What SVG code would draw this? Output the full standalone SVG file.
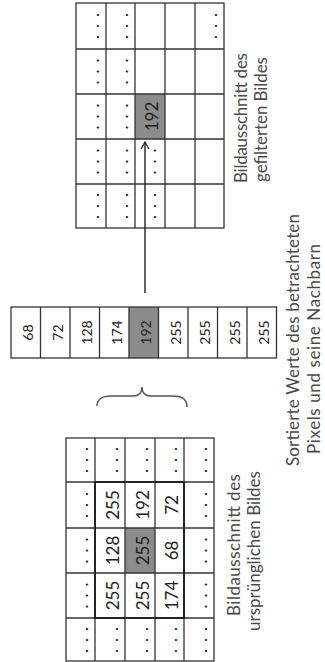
<svg xmlns="http://www.w3.org/2000/svg" width="325" height="662" viewBox="0 0 325 662">
<style>
.bg{fill:#ffffff}
.grid{fill:none;stroke:#333;stroke-width:1.3}
.thick{fill:none;stroke:#222;stroke-width:2}
.gray{fill:#8c8c8c}
.num{font-family:Lato,"Liberation Sans",sans-serif;font-size:17px;fill:#222;text-anchor:middle}
.snum{font-family:Lato,"Liberation Sans",sans-serif;font-size:14px;fill:#222;text-anchor:middle}
.dots{font-family:Lato,"Liberation Sans",sans-serif;font-size:17px;fill:#222;text-anchor:middle;letter-spacing:7px}
.lbl{font-family:Lato,"Liberation Sans",sans-serif;font-size:17px;fill:#4a4a4a;text-anchor:middle}
.conn{fill:none;stroke:#222;stroke-width:1.4}
.brace{fill:none;stroke:#555;stroke-width:1.5}
</style>
<defs>
<marker id="arr" markerWidth="10" markerHeight="10" refX="8" refY="5" orient="auto" markerUnits="userSpaceOnUse">
<path d="M1,1 L8,5 L1,9" fill="none" stroke="#222" stroke-width="1.3"/>
</marker>
</defs>
<rect class="bg" x="0" y="0" width="325" height="662"/>

<g id="filtered-grid">
<rect class="gray" x="135" y="94" width="30" height="45"/>
<rect class="grid" x="76" y="3" width="148" height="225"/>
<path class="grid" d="M106,3V228M135,3V228M165,3V228M195,3V228M76,49H224M76,94H224M76,139H224M76,184H224"/>
<text class="num" transform="translate(158,116.5) rotate(-90)">192</text>
<text class="dots" transform="translate(99,22.5) rotate(-90)">...</text>
<text class="dots" transform="translate(99,68) rotate(-90)">...</text>
<text class="dots" transform="translate(99,113) rotate(-90)">...</text>
<text class="dots" transform="translate(99,158) rotate(-90)">...</text>
<text class="dots" transform="translate(99,202.5) rotate(-90)">...</text>
<text class="dots" transform="translate(128,22.5) rotate(-90)">...</text>
<text class="dots" transform="translate(128,68) rotate(-90)">...</text>
<text class="dots" transform="translate(128,113) rotate(-90)">...</text>
<text class="dots" transform="translate(128,158) rotate(-90)">...</text>
<text class="dots" transform="translate(128,202.5) rotate(-90)">...</text>
<text class="dots" transform="translate(156,158) rotate(-90)">...</text>
<text class="dots" transform="translate(156,202.5) rotate(-90)">...</text>
<text class="dots" transform="translate(217,22.5) rotate(-90)">...</text>
</g>

<g id="filtered-label">
<text class="lbl" transform="translate(247,118) rotate(-90)" textLength="130">Bildausschnitt des</text>
<text class="lbl" transform="translate(267,119.5) rotate(-90)" textLength="125">gefilterten Bildes</text>
</g>

<g id="sorted-strip">
<rect class="gray" x="129" y="307" width="29.5" height="51"/>
<rect class="grid" x="11" y="307" width="265.5" height="51"/>
<path class="grid" d="M40.5,307V358M70,307V358M99.5,307V358M129,307V358M158.5,307V358M188,307V358M217.5,307V358M247,307V358"/>
<text class="snum" transform="translate(33,332.5) rotate(-90)">68</text>
<text class="snum" transform="translate(62.5,332.5) rotate(-90)">72</text>
<text class="snum" transform="translate(92,332.5) rotate(-90)">128</text>
<text class="snum" transform="translate(121.5,332.5) rotate(-90)">174</text>
<text class="snum" transform="translate(151,332.5) rotate(-90)">192</text>
<text class="snum" transform="translate(180.5,332.5) rotate(-90)">255</text>
<text class="snum" transform="translate(210,332.5) rotate(-90)">255</text>
<text class="snum" transform="translate(239.5,332.5) rotate(-90)">255</text>
<text class="snum" transform="translate(269,332.5) rotate(-90)">255</text>
</g>

<g id="sorted-label">
<text class="lbl" transform="translate(299,340) rotate(-90)" textLength="252">Sortierte Werte des betrachteten</text>
<text class="lbl" transform="translate(320,349) rotate(-90)" textLength="210">Pixels und seine Nachbarn</text>
</g>

<g id="original-grid">
<rect class="gray" x="125" y="528" width="30" height="45"/>
<rect class="grid" x="66" y="438" width="148" height="223"/>
<path class="grid" d="M95,438V661M125,438V661M155,438V661M184,438V661M66,482H214M66,528H214M66,573H214M66,618H214"/>
<rect class="thick" x="95" y="482" width="89" height="136"/>
<text class="num" transform="translate(119,505) rotate(-90)">255</text>
<text class="num" transform="translate(119,550.5) rotate(-90)">128</text>
<text class="num" transform="translate(119,595.5) rotate(-90)">255</text>
<text class="num" transform="translate(149,505) rotate(-90)">192</text>
<text class="num" transform="translate(149,550.5) rotate(-90)">255</text>
<text class="num" transform="translate(149,595.5) rotate(-90)">255</text>
<text class="num" transform="translate(178,505) rotate(-90)">72</text>
<text class="num" transform="translate(178,550.5) rotate(-90)">68</text>
<text class="num" transform="translate(178,595.5) rotate(-90)">174</text>
<text class="dots" transform="translate(88,456.5) rotate(-90)">...</text>
<text class="dots" transform="translate(88,501.5) rotate(-90)">...</text>
<text class="dots" transform="translate(88,547) rotate(-90)">...</text>
<text class="dots" transform="translate(88,592) rotate(-90)">...</text>
<text class="dots" transform="translate(88,636.5) rotate(-90)">...</text>
<text class="dots" transform="translate(118,456.5) rotate(-90)">...</text>
<text class="dots" transform="translate(118,636.5) rotate(-90)">...</text>
<text class="dots" transform="translate(148,456.5) rotate(-90)">...</text>
<text class="dots" transform="translate(148,636.5) rotate(-90)">...</text>
<text class="dots" transform="translate(177,456.5) rotate(-90)">...</text>
<text class="dots" transform="translate(177,636.5) rotate(-90)">...</text>
<text class="dots" transform="translate(207,456.5) rotate(-90)">...</text>
<text class="dots" transform="translate(207,501.5) rotate(-90)">...</text>
<text class="dots" transform="translate(207,547) rotate(-90)">...</text>
<text class="dots" transform="translate(207,592) rotate(-90)">...</text>
<text class="dots" transform="translate(207,636.5) rotate(-90)">...</text>
</g>

<g id="original-label">
<text class="lbl" transform="translate(240,545) rotate(-90)" textLength="142">Bildausschnitt des</text>
<text class="lbl" transform="translate(260,551) rotate(-90)" textLength="160">ursprünglichen Bildes</text>
</g>

<g id="connectors">
<line class="conn" x1="145" y1="293" x2="145" y2="142" marker-end="url(#arr)"/>
<path class="brace" d="M97,406 C97,398 103,396 112,396 L133,396 C139,396 142,393 142,387 C142,393 145,396 151,396 L172,396 C181,396 187,398 187,407"/>
</g>
</svg>
